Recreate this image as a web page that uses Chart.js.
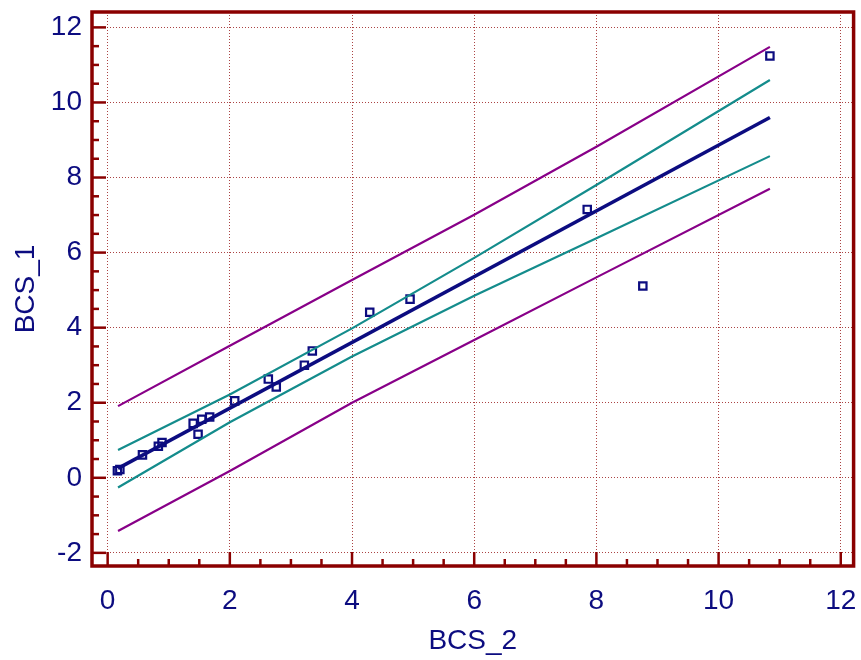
<!DOCTYPE html>
<html>
<head>
<meta charset="utf-8">
<script src="https://cdn.jsdelivr.net/npm/chart.js@4/dist/chart.umd.min.js"></script>
<style>
  html, body { margin: 0; padding: 0; background: #fff; }
  #wrap { width: 861px; height: 660px; }
</style>
</head>
<body>
<div id="wrap"><canvas id="myChart"></canvas></div>
<script>
  // observations
  const bcs2 = [0.16, 0.20, 0.57, 0.83, 0.89, 1.40, 1.48, 1.54, 1.67, 2.08, 2.63, 2.76, 3.22, 3.35, 4.29, 4.95, 7.85, 8.76, 10.84]
  const bcs1 = [0.19, 0.22, 0.61, 0.84, 0.94, 1.45, 1.16, 1.56, 1.62, 2.05, 2.63, 2.42, 3.00, 3.38, 4.41, 4.76, 7.15, 5.11, 11.24]

  // regression line and bands, read at a few x positions
  const fitX = [0.17, 10.84]
  const fitY = [0.25, 9.60]
  const bandX = [0.17, 2, 4, 6, 8, 10.84]
  const confUpper = [0.74, 2.22, 3.98, 5.86, 7.80, 10.60]
  const confLower = [-0.26, 1.48, 3.23, 4.85, 6.38, 8.57]
  const predUpper = [1.91, 3.52, 5.27, 7.01, 8.82, 11.48]
  const predLower = [-1.42, 0.18, 2.00, 3.67, 5.34, 7.70]

  const xTicks = [0, 2, 4, 6, 8, 10, 12]
  const yTicks = [-2, 0, 2, 4, 6, 8, 10, 12]

  const navy = '#0c0c80'
  const frame = '#8a0000'
  const teal = '#148c8c'
  const purple = '#880088'
  const font = { family: 'Liberation Sans', size: 28 }

  const toPts = (xs, ys) => xs.map((x, i) => ({ x: x, y: ys[i] }))
  const bandStyle = c => ({ showLine: true, pointRadius: 0, borderColor: c, borderWidth: 2.2, fill: false })

  // frame and inward tick marks
  const framePlugin = {
    id: 'frame',
    afterDraw(chart) {
      const { ctx, chartArea: a, scales } = chart
      ctx.save()
      ctx.strokeStyle = frame
      ctx.lineWidth = 2.5
      for (let v = -2; v <= 12.4; v += 0.5) {
        const y = scales.y.getPixelForValue(v)
        const len = v % 2 === 0 ? 14 : 7
        ctx.beginPath(); ctx.moveTo(a.left, y); ctx.lineTo(a.left + len, y); ctx.stroke()
      }
      for (let v = 0; v <= 12.2; v += 0.5) {
        const x = scales.x.getPixelForValue(v)
        const len = v % 2 === 0 ? 14 : 7
        ctx.beginPath(); ctx.moveTo(x, a.bottom); ctx.lineTo(x, a.bottom - len); ctx.stroke()
      }
      ctx.lineWidth = 3.5
      ctx.strokeRect(a.left, a.top, a.right - a.left, a.bottom - a.top)
      ctx.restore()
    }
  }

  const ctx = document.getElementById('myChart')
  new Chart(ctx, {
    type: 'scatter',
    data: {
      datasets: [
        Object.assign({ data: toPts(bandX, predUpper) }, bandStyle(purple)),
        Object.assign({ data: toPts(bandX, predLower) }, bandStyle(purple)),
        Object.assign({ data: toPts(bandX, confUpper) }, bandStyle(teal)),
        Object.assign({ data: toPts(bandX, confLower) }, bandStyle(teal)),
        { data: toPts(fitX, fitY), showLine: true, pointRadius: 0, borderColor: navy, borderWidth: 3.5 },
        {
          data: toPts(bcs2, bcs1),
          pointStyle: 'rect',
          pointRadius: 5.2,
          pointBorderWidth: 2.2,
          pointBorderColor: navy,
          pointBackgroundColor: 'rgba(0,0,0,0)',
          borderColor: navy
        }
      ]
    },
    options: {
      responsive: true,
      maintainAspectRatio: false,
      animation: false,
      layout: { padding: { top: 12, right: 5, left: 0, bottom: 0 } },
      plugins: { legend: { display: false }, tooltip: { enabled: false } },
      scales: {
        x: {
          type: 'linear',
          min: -0.256,
          max: 12.21,
          afterFit: s => { s.height = 94; s.paddingLeft = 0; s.paddingRight = 0 },
          afterBuildTicks: s => { s.ticks = xTicks.map(v => ({ value: v })) },
          grid: { color: 'rgba(150,20,20,0.8)', lineWidth: 1, drawTicks: false },
          border: { display: false, dash: [1, 2] },
          ticks: { color: navy, padding: 18, font: font },
          title: { display: true, text: 'BCS_2', color: navy, padding: { top: 0, bottom: 2 }, font: font }
        },
        y: {
          type: 'linear',
          min: -2.35,
          max: 12.41,
          afterFit: s => { s.width = 92; s.paddingTop = 0; s.paddingBottom = 0 },
          afterBuildTicks: s => { s.ticks = yTicks.map(v => ({ value: v })) },
          grid: { color: 'rgba(150,20,20,0.8)', lineWidth: 1, drawTicks: false },
          border: { display: false, dash: [1, 2] },
          ticks: { color: navy, padding: 10, font: font },
          title: { display: true, text: 'BCS_1', color: navy, padding: { top: 9, bottom: 0 }, font: font }
        }
      }
    },
    plugins: [framePlugin]
  })
</script>
</body>
</html>
